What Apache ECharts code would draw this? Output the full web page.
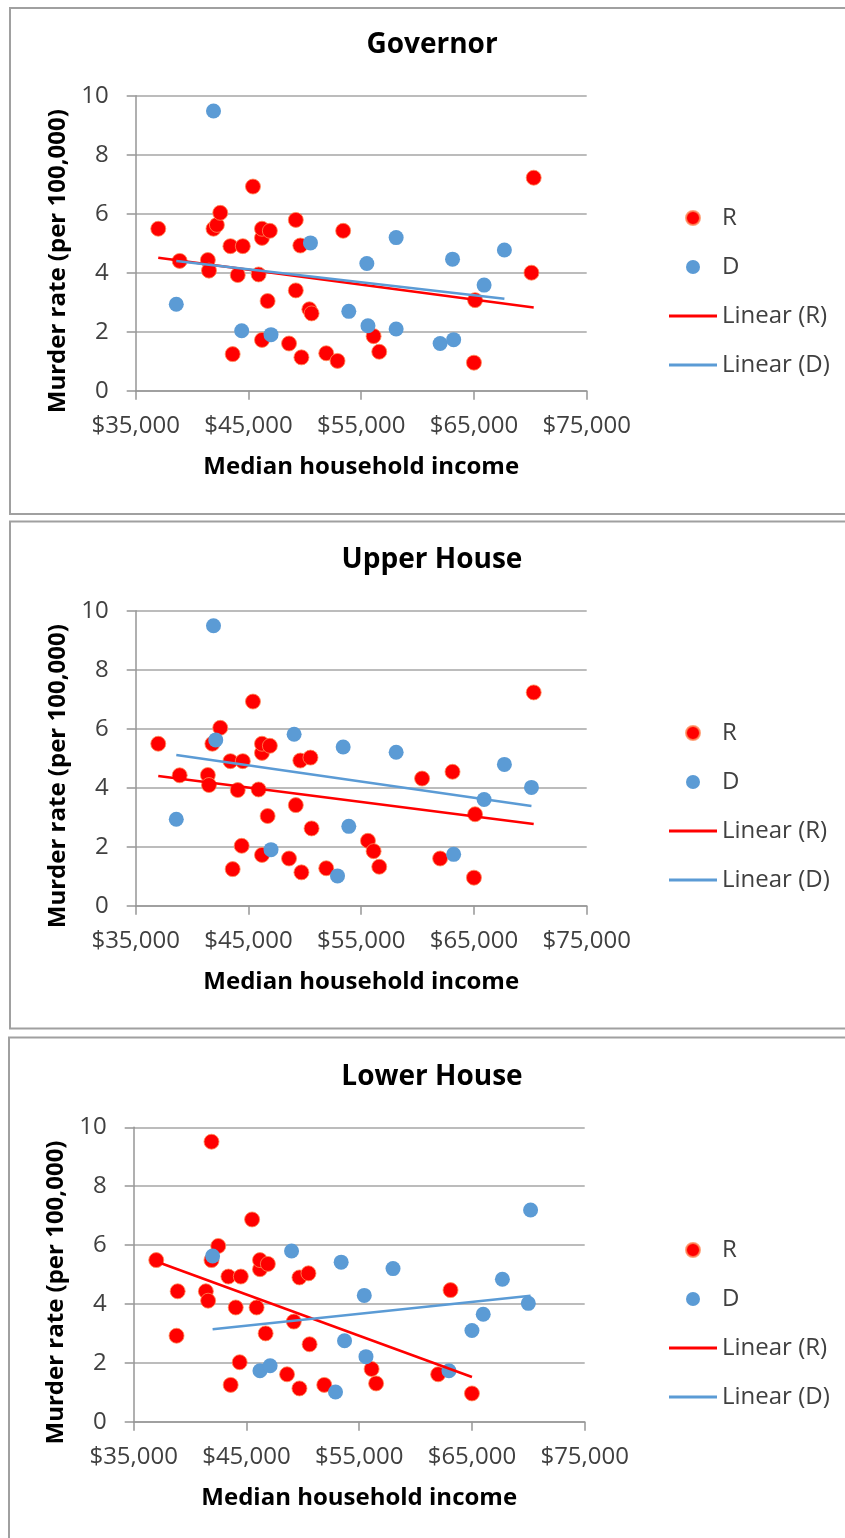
<!DOCTYPE html>
<html><head><meta charset="utf-8">
<script src="https://cdn.jsdelivr.net/npm/echarts@6/dist/echarts.min.js"></script>
<style>html,body{margin:0;padding:0;background:#fff;} #c{width:845px;height:1538px;}</style>
</head><body><div id="c"></div><script>
// ---- data ----
const panelTitles = ['Governor', 'Upper House', 'Lower House'];
const xTickValues = [35000, 45000, 55000, 65000, 75000];
const yTickValues = [0, 2, 4, 6, 8, 10];
const legendNames = ['R', 'D', 'Linear (R)', 'Linear (D)'];
const xAxisTitle = 'Median household income';
const yAxisTitle = 'Murder rate (per 100,000)';

// Governor
const govR = [[37000,5.49],[38900,4.40],[41400,4.43],[41500,4.07],[41900,5.49],[42200,5.62],[42500,6.03],[43400,4.90],[43600,1.24],[44050,3.92],[44500,4.90],[45400,6.92],[45900,3.94],[46200,5.18],[46200,5.49],[46900,5.42],[46200,1.72],[46700,3.04],[48600,1.60],[49200,5.79],[49200,3.40],[49600,4.92],[49700,1.13],[50400,2.76],[50600,2.62],[51900,1.27],[52900,1.01],[53400,5.42],[56100,1.85],[56600,1.32],[65100,3.07],[65000,0.95],[70300,7.22],[70100,4.00]];
const govD = [[41900,9.48],[38600,2.93],[44400,2.03],[47000,1.90],[50500,5.01],[53900,2.69],[55500,4.31],[55600,2.20],[58100,5.19],[58100,2.09],[62000,1.60],[63200,1.73],[63100,4.46],[65900,3.58],[67700,4.77]];
const govTrendR = [[37000,4.51],[70300,2.82]];
const govTrendD = [[38600,4.40],[67700,3.12]];

// Upper House
const upR = [[37000,5.49],[38900,4.42],[41400,4.43],[41500,4.09],[41800,5.49],[42500,6.03],[43400,4.90],[43600,1.24],[44050,3.92],[44500,4.90],[44400,2.03],[45400,6.92],[45900,3.94],[46200,5.18],[46200,5.49],[46900,5.42],[46200,1.72],[46700,3.04],[48600,1.60],[49200,3.41],[49600,4.92],[50500,5.02],[49700,1.13],[50600,2.62],[51900,1.27],[55600,2.20],[56100,1.85],[56600,1.32],[60400,4.31],[62000,1.60],[63100,4.54],[65100,3.10],[65000,0.95],[70300,7.23]];
const upD = [[41900,9.49],[38600,2.93],[42100,5.62],[47000,1.90],[49050,5.81],[53400,5.38],[53900,2.69],[52900,1.01],[58100,5.20],[63200,1.74],[65900,3.60],[67700,4.79],[70100,4.01]];
const upTrendR = [[37000,4.40],[70300,2.77]];
const upTrendD = [[38600,5.11],[70100,3.38]];

// Lower House
const lowR = [[37000,5.49],[38900,4.43],[38800,2.92],[41400,4.43],[41600,4.11],[41900,9.51],[41900,5.49],[42500,5.97],[43400,4.93],[43600,1.25],[44050,3.88],[44500,4.93],[44400,2.02],[45500,6.87],[45900,3.88],[46200,5.18],[46200,5.49],[46900,5.36],[46700,3.00],[48600,1.61],[49200,3.40],[49700,4.90],[50500,5.04],[49700,1.13],[50600,2.63],[51900,1.25],[56100,1.79],[56500,1.30],[62000,1.61],[63100,4.47],[65000,0.96]];
const lowD = [[42000,5.63],[46200,1.73],[47100,1.90],[49000,5.80],[53400,5.42],[52900,1.01],[53700,2.75],[55450,4.29],[55600,2.21],[58000,5.20],[62960,1.73],[65000,3.10],[66000,3.65],[67700,4.84],[70000,4.02],[70200,7.19]];
const lowTrendR = [[37000,5.44],[65000,1.52]];
const lowTrendD = [[42000,3.14],[70200,4.28]];

const panels = [
  {r: govR, d: govD, tr: govTrendR, td: govTrendD},
  {r: upR, d: upD, tr: upTrendR, td: upTrendD},
  {r: lowR, d: lowD, tr: lowTrendR, td: lowTrendD}
];

// ---- layout / style ----
const FONT = 'Open Sans';
const RED = '#ff0000', BLUE = '#5b9bd5';
const GRID_COLOR = '#a6a6a6', AXIS_COLOR = '#969696', TXT = '#404040';
const LINE_ICON = 'path://M0,0H48V3H0Z';
const layout = [
  {grid: {left: 135.7, top: 95.7, width: 451, height: 295}, titleTop: 31, legendTop: 201, box: [10, 8, 900, 506]},
  {grid: {left: 135.7, top: 610.7, width: 451, height: 295}, titleTop: 546, legendTop: 716, box: [10, 521.5, 900, 507]},
  {grid: {left: 133.7, top: 1127.3, width: 451, height: 294.4}, titleTop: 1063, legendTop: 1233, box: [9, 1037.5, 900, 540]}
];

const option = {
  animation: false,
  backgroundColor: '#fff',
  textStyle: {fontFamily: FONT},
  title: [], grid: [], xAxis: [], yAxis: [], legend: [], series: [], graphic: []
};

panels.forEach((p, i) => {
  const L = layout[i];
  option.graphic.push({type: 'rect', shape: {x: L.box[0], y: L.box[1], width: L.box[2], height: L.box[3]},
    style: {fill: 'none', stroke: '#a0a0a0', lineWidth: 2}, silent: true, z: -1});
  option.title.push({text: panelTitles[i], left: 432, top: L.titleTop, textAlign: 'center', padding: 0,
    textStyle: {fontFamily: FONT, fontWeight: 'bold', fontSize: 28, color: '#000'}});
  option.grid.push(Object.assign({containLabel: false}, L.grid));
  option.xAxis.push({
    type: 'value', gridIndex: i, min: xTickValues[0], max: xTickValues[xTickValues.length - 1],
    interval: xTickValues[1] - xTickValues[0],
    name: xAxisTitle, nameLocation: 'middle', nameGap: 64,
    nameTextStyle: {fontFamily: FONT, fontWeight: 'bold', fontSize: 24, color: '#000'},
    axisLine: {show: true, onZero: false, lineStyle: {color: AXIS_COLOR, width: 1.5}},
    axisTick: {show: true, inside: false, length: 9, lineStyle: {color: AXIS_COLOR, width: 1.5}},
    axisLabel: {margin: 23, fontFamily: FONT, fontSize: 24, color: TXT,
      formatter: v => '$' + v.toLocaleString('en-US')},
    splitLine: {show: false}
  });
  option.yAxis.push({
    type: 'value', gridIndex: i, min: yTickValues[0], max: yTickValues[yTickValues.length - 1],
    interval: yTickValues[1] - yTickValues[0],
    name: yAxisTitle, nameLocation: 'middle', nameGap: 66, nameRotate: 90,
    nameTextStyle: {fontFamily: FONT, fontWeight: 'bold', fontSize: 24, color: '#000', padding: [0, 36, 0, 0]},
    axisLine: {show: true, lineStyle: {color: AXIS_COLOR, width: 1.5}},
    axisTick: {show: true, inside: false, length: 9, lineStyle: {color: AXIS_COLOR, width: 1.5}},
    axisLabel: {margin: 27, fontFamily: FONT, fontSize: 24, color: TXT},
    splitLine: {show: true, lineStyle: {color: GRID_COLOR, width: 1.5}}
  });
  option.legend.push({
    orient: 'vertical', left: 664, top: L.legendTop, itemWidth: 48, itemHeight: 14, itemGap: 25,
    data: [
      {name: legendNames[0]},
      {name: legendNames[1]},
      {name: legendNames[2], icon: LINE_ICON},
      {name: legendNames[3], icon: LINE_ICON}
    ],
    textStyle: {fontFamily: FONT, fontSize: 24, lineHeight: 23, color: TXT},
    selectedMode: false
  });
  option.series.push(
    {name: legendNames[0], type: 'scatter', xAxisIndex: i, yAxisIndex: i, data: p.r, symbolSize: 15,
      itemStyle: {color: RED, borderColor: 'rgba(255,140,90,0.8)', borderWidth: 1, opacity: 1}, z: 3},
    {name: legendNames[1], type: 'scatter', xAxisIndex: i, yAxisIndex: i, data: p.d, symbolSize: 15,
      itemStyle: {color: BLUE, opacity: 1}, z: 3},
    {name: legendNames[2], type: 'line', xAxisIndex: i, yAxisIndex: i, data: p.tr, symbol: 'none', showSymbol: false,
      lineStyle: {color: RED, width: 2.5}, itemStyle: {color: RED}, z: 4},
    {name: legendNames[3], type: 'line', xAxisIndex: i, yAxisIndex: i, data: p.td, symbol: 'none', showSymbol: false,
      lineStyle: {color: BLUE, width: 2.5}, itemStyle: {color: BLUE}, z: 4}
  );
});

const chart = echarts.init(document.getElementById('c'), null, {renderer: 'canvas'});
chart.setOption(option);
</script></body></html>
